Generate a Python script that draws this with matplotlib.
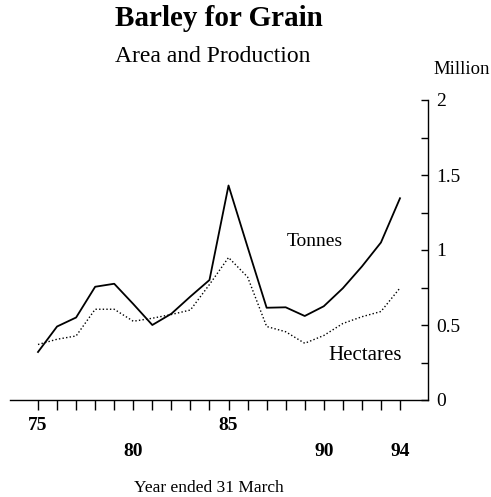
import matplotlib
matplotlib.use("Agg")
import matplotlib.pyplot as plt
import numpy as np

plt.rcParams['font.family'] = 'serif'
plt.rcParams['font.serif'] = ['Liberation Serif', 'DejaVu Serif']

# years ended 31 March, 1975-1994
years = list(range(75, 95))
tonnes = [0.32, 0.49, 0.55, 0.755, 0.775, 0.64, 0.50, 0.575, 0.69, 0.80,
          1.43, 1.02, 0.615, 0.618, 0.56, 0.625, 0.745, 0.89, 1.05, 1.345]
hectares = [0.37, 0.405, 0.427, 0.605, 0.605, 0.525, 0.545, 0.57, 0.60, 0.77,
            0.95, 0.82, 0.49, 0.455, 0.378, 0.43, 0.51, 0.555, 0.59, 0.747]

low_labels = [75, 85]
high_labels = [80, 90, 94]

fig = plt.figure(figsize=(4.91, 4.97), dpi=100)
ax = fig.add_axes([10/491, 1-400/497, 418/491, 300/497])

ax.plot(years, tonnes, color='black', lw=1.3)
ax.plot(years, hectares, color='black', lw=1.0, ls=(0, (1, 1.6)))

ax.set_xlim(73.53, 95.47)
ax.set_ylim(0, 2)

for s in ['top', 'left']:
    ax.spines[s].set_visible(False)
ax.spines['bottom'].set_linewidth(1.0)
ax.spines['right'].set_linewidth(1.0)

ax.yaxis.tick_right()
ax.set_yticks([0, 0.5, 1, 1.5, 2])
ax.set_yticklabels(['0', '0.5', '1', '1.5', '2'], fontsize=14)
ax.set_yticks(np.arange(0.25, 2, 0.5), minor=True)
ax.tick_params(axis='y', which='both', direction='in', length=5, width=1, pad=6)

ax.set_xticks(years)
ax.set_xticklabels([])
ax.tick_params(axis='x', direction='out', length=7, width=1)

for y in low_labels:
    ax.annotate(str(y), (y, 0), xycoords='data', xytext=(0, -18),
                textcoords='offset points', ha='center', va='center',
                fontsize=14, fontweight='bold')
for y in high_labels:
    ax.annotate(str(y), (y, 0), xycoords='data', xytext=(0, -37),
                textcoords='offset points', ha='center', va='center',
                fontsize=14, fontweight='bold')

fig.text(315/491, 1-241/497, 'Tonnes', ha='center', va='center', fontsize=14)
fig.text(365/491, 1-356/497, 'Hectares', ha='center', va='center', fontsize=15)

fig.text(219/491, 1-19/497, 'Barley for Grain', ha='center', va='center',
         fontsize=21, fontweight='bold')
fig.text(213/491, 1-56/497, 'Area and Production', ha='center', va='center',
         fontsize=17)
fig.text(490/491, 1-70/497, 'Million', ha='right', va='center', fontsize=13.5)
fig.text(209/491, 1-488/497, 'Year ended 31 March', ha='center', va='center',
         fontsize=12.5)

fig.savefig('out.png', dpi=100)
